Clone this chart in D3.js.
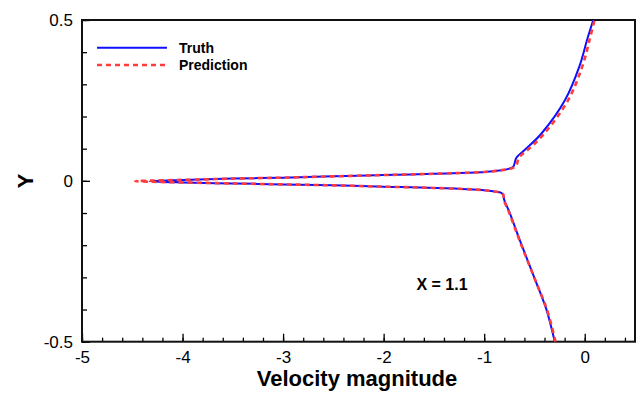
<!DOCTYPE html>
<html>
<head>
<meta charset="utf-8">
<script src="https://cdn.jsdelivr.net/npm/d3@7"></script>
<style>
  body { margin: 0; background: #fff; }
  text { font-family: "Liberation Sans", Arial, sans-serif; }
</style>
</head>
<body>
<div id="chart"></div>
<script>
// velocity magnitude profile at X = 1.1, listed from bottom (y=-0.5) to top (y=0.5)
const truthVel = [-0.298, -0.38, -0.48, -0.646, -0.745, -0.80, -0.812, -0.83, -0.9, -1.0, -1.5, -2.0, -2.5, -3.0, -3.5, -4.0, -4.33,
                  -4.0, -3.5, -3.0, -2.5, -2.0, -1.5, -1.0, -0.85, -0.75, -0.71, -0.70, -0.68, -0.59, -0.428, -0.196, -0.054, 0.025, 0.085];
const truthY   = [-0.5, -0.401, -0.318, -0.184, -0.10, -0.06, -0.043, -0.037, -0.033, -0.029, -0.022, -0.018, -0.014, -0.011, -0.008, -0.005, -0.001,
                  0.003, 0.007, 0.010, 0.014, 0.018, 0.022, 0.0275, 0.032, 0.038, 0.044, 0.052, 0.072, 0.098, 0.148, 0.251, 0.355, 0.44, 0.5];
const predVel  = [-0.29, -0.375, -0.48, -0.65, -0.75, -0.803, -0.81, -0.83, -0.9, -1.0, -1.5, -2.0, -2.5, -3.0, -3.5, -4.0, -4.3, -4.47,
                  -4.3, -4.0, -3.5, -3.0, -2.5, -2.0, -1.5, -1.0, -0.85, -0.74, -0.69, -0.675, -0.655, -0.56, -0.40, -0.165, -0.025, 0.05, 0.097];
const predY    = [-0.5, -0.401, -0.318, -0.184, -0.10, -0.06, -0.043, -0.037, -0.033, -0.029, -0.022, -0.018, -0.014, -0.011, -0.008, -0.005, -0.003, -0.001,
                  0.001, 0.003, 0.007, 0.010, 0.014, 0.018, 0.022, 0.0275, 0.032, 0.038, 0.044, 0.052, 0.072, 0.098, 0.148, 0.251, 0.355, 0.44, 0.5];
const xTickLabels = [-5, -4, -3, -2, -1, 0];
const yTickLabels = [-0.5, 0, 0.5];

const width = 641, height = 397;
const margin = {top: 20, right: 6, bottom: 55.3, left: 82};
const w = width - margin.left - margin.right;
const h = height - margin.top - margin.bottom;

const svg = d3.select('#chart').append('svg')
    .attr('width', width).attr('height', height);
const g = svg.append('g').attr('transform', 'translate(' + margin.left + ',' + margin.top + ')');

const x = d3.scaleLinear().domain([-5, 0.5]).range([0, w]);
const y = d3.scaleLinear().domain([-0.5, 0.5]).range([h, 0]);

g.append('clipPath').attr('id', 'clip')
  .append('rect').attr('width', w).attr('height', h);

// minor ticks
const xMinor = d3.range(-5, 0.51, 0.2).map(v => +v.toFixed(2));
const yMinor = d3.range(-0.5, 0.51, 0.1).map(v => +v.toFixed(2));
g.append('g').attr('transform', 'translate(0,' + h + ')')
  .call(d3.axisBottom(x).tickValues(xMinor).tickSize(-4).tickFormat(''))
  .call(s => s.select('.domain').remove());
g.append('g')
  .call(d3.axisLeft(y).tickValues(yMinor).tickSize(-5).tickFormat(''))
  .call(s => s.select('.domain').remove());

// major ticks (plain hyphen minus like the original)
const xAxis = g.append('g').attr('transform', 'translate(0,' + h + ')')
  .call(d3.axisBottom(x).tickValues(xTickLabels).tickSize(-8).tickPadding(9).tickFormat(d => String(d)));
xAxis.select('.domain').remove();
xAxis.selectAll('text').attr('font-size', 17).attr('fill', '#000').style('font-family', '"Liberation Sans", Arial, sans-serif');

const yAxis = g.append('g')
  .call(d3.axisLeft(y).tickValues(yTickLabels).tickSize(-8).tickPadding(9).tickFormat(d => d === 0 ? '0' : d.toFixed(1)));
yAxis.select('.domain').remove();
yAxis.selectAll('text').attr('font-size', 17).attr('fill', '#000').style('font-family', '"Liberation Sans", Arial, sans-serif');

g.selectAll('.tick line').attr('stroke', '#000').attr('stroke-width', 1.3);

// frame
g.append('rect').attr('width', w).attr('height', h)
  .attr('fill', 'none').attr('stroke', '#111').attr('stroke-width', 2);

const line = d3.line().x(d => x(d[0])).y(d => y(d[1])).curve(d3.curveCatmullRom.alpha(0.5));
const truth = truthVel.map((v, i) => [v, truthY[i]]);
const pred = predVel.map((v, i) => [v, predY[i]]);

const plot = g.append('g').attr('clip-path', 'url(#clip)');
plot.append('path').datum(truth).attr('d', line)
  .attr('fill', 'none').attr('stroke', '#1010ff').attr('stroke-width', 2);
plot.append('path').datum(pred).attr('d', line)
  .attr('fill', 'none').attr('stroke', '#ff3b3b').attr('stroke-width', 2.6)
  .attr('stroke-dasharray', '5,4');

// legend
const leg = svg.append('g');
leg.append('line').attr('x1', 97).attr('x2', 167).attr('y1', 47.7).attr('y2', 47.7)
  .attr('stroke', '#1010ff').attr('stroke-width', 2);
leg.append('line').attr('x1', 97).attr('x2', 167).attr('y1', 65).attr('y2', 65)
  .attr('stroke', '#ff3b3b').attr('stroke-width', 2.6).attr('stroke-dasharray', '5,4');
leg.append('text').attr('x', 179).attr('y', 52.5).text('Truth')
  .attr('font-size', 14).attr('font-weight', 'bold');
leg.append('text').attr('x', 179).attr('y', 70).text('Prediction')
  .attr('font-size', 14).attr('font-weight', 'bold');

// annotation
svg.append('text').attr('x', 442).attr('y', 290).attr('text-anchor', 'middle')
  .attr('font-size', 16).attr('font-weight', 'bold').text('X = 1.1');

// axis titles
svg.append('text').attr('x', 357).attr('y', 386).attr('text-anchor', 'middle')
  .attr('font-size', 22).attr('font-weight', 'bold').text('Velocity magnitude');
svg.append('text').attr('transform', 'translate(33,181) rotate(-90)').attr('text-anchor', 'middle')
  .attr('font-size', 22).attr('font-weight', 'bold').text('Y');
</script>
</body>
</html>
